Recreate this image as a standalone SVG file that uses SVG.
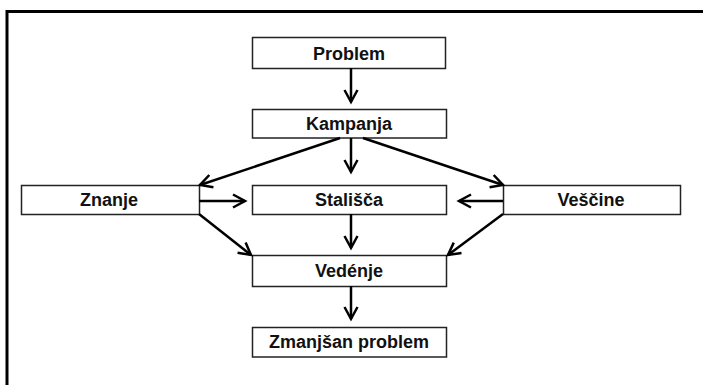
<svg xmlns="http://www.w3.org/2000/svg" width="703" height="385" viewBox="0 0 703 385">
<defs>
<marker id="ah" markerUnits="userSpaceOnUse" markerWidth="20" markerHeight="20" viewBox="-14 -10 16 20" refX="0" refY="0" orient="auto">
<path d="M-12,-6.5 L0,0 L-12,6.5" fill="none" stroke="#000" stroke-width="2.5" stroke-linejoin="miter"/>
</marker>
</defs>
<style>
.box{fill:#fff;stroke:#222;stroke-width:1.5}
.lbl{font-family:"Liberation Sans",Arial,sans-serif;font-weight:bold;font-size:18px;fill:#111;text-anchor:middle}
.con{stroke:#000;stroke-width:2.5;fill:none;marker-end:url(#ah)}
</style>
<rect width="703" height="385" fill="#fff"/>
<path d="M7,385 V11.5 H703" fill="none" stroke="#000" stroke-width="3"/>
<g id="problem"><rect class="box" x="252.5" y="37.5" width="193" height="31"/><text class="lbl" x="349" y="60">Problem</text></g>
<g id="kampanja"><rect class="box" x="252.5" y="109.5" width="194" height="28.5"/><text class="lbl" x="349" y="130">Kampanja</text></g>
<g id="znanje"><rect class="box" x="21.5" y="185.5" width="178" height="29"/><text class="lbl" x="109" y="206">Znanje</text></g>
<g id="stalisca"><rect class="box" x="252.5" y="185.5" width="194" height="29"/><text class="lbl" x="349" y="206">Stališča</text></g>
<g id="vescine"><rect class="box" x="503.5" y="185.5" width="177" height="29"/><text class="lbl" x="591" y="206">Veščine</text></g>
<g id="vedenje"><rect class="box" x="252.5" y="255.5" width="194" height="31"/><text class="lbl" x="349" y="277">Vedénje</text></g>
<g id="zmanjsan"><rect class="box" x="252.5" y="327.5" width="194" height="29.5"/><text class="lbl" x="349" y="348">Zmanjšan problem</text></g>
<g id="connectors">
<line class="con" x1="351" y1="68" x2="351" y2="102"/>
<line class="con" x1="351" y1="138" x2="351" y2="172"/>
<line class="con" x1="340" y1="138" x2="200" y2="185"/>
<line class="con" x1="363" y1="138" x2="503" y2="185"/>
<line class="con" x1="199" y1="201" x2="245" y2="201"/>
<line class="con" x1="503" y1="201" x2="459" y2="201"/>
<line class="con" x1="351" y1="214" x2="351" y2="248"/>
<line class="con" x1="199" y1="214" x2="251" y2="255"/>
<line class="con" x1="503" y1="214" x2="448" y2="255"/>
<line class="con" x1="351" y1="286" x2="351" y2="319"/>
</g>
</svg>
